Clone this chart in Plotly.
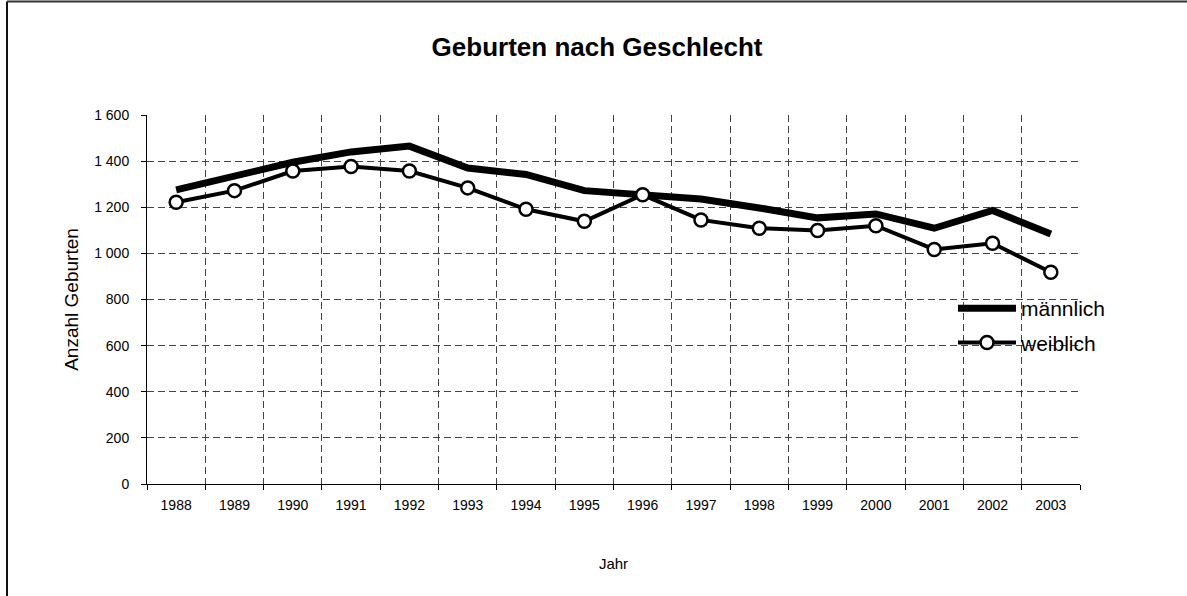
import plotly.graph_objects as go

years = [str(y) for y in range(1988, 2004)]
maennlich = [1275, 1337, 1395, 1440, 1465, 1370, 1342, 1272, 1254, 1236, 1197, 1154, 1171, 1109, 1186, 1084]
weiblich = [1222, 1272, 1357, 1377, 1357, 1284, 1191, 1139, 1254, 1145, 1109, 1099, 1120, 1017, 1044, 918]
y_ticks = [0, 200, 400, 600, 800, 1000, 1200, 1400, 1600]

FONT = "Liberation Sans, Arial, sans-serif"
L, R, T, B = 147, 107, 115, 112
PW, PH = 1187 - L - R, 596 - T - B

fig = go.Figure()
fig.add_trace(go.Scatter(
    x=years, y=maennlich, name="männlich", mode="lines", legendgroup="m",
    line=dict(color="black", width=7),
))
fig.add_trace(go.Scatter(
    x=years, y=weiblich, name="weiblich", mode="lines+markers", legendgroup="w",
    line=dict(color="black", width=4),
    marker=dict(symbol="circle", size=13, color="white", line=dict(color="black", width=2.5)),
))

fig.update_layout(
    width=1187, height=596,
    margin=dict(l=L, r=R, t=T, b=B),
    paper_bgcolor="white", plot_bgcolor="white",
    separators=", ",
    font=dict(family=FONT, color="black", size=14),
    title=dict(text="<b>Geburten nach Geschlecht</b>", x=0.503, xanchor="center",
               y=1 - 47 / 596, yanchor="middle", font=dict(size=26, family=FONT)),
    showlegend=True,
    legend=dict(x=(953 - L) / PW, y=(484 - 288) / PH, xanchor="left", yanchor="top",
                bgcolor="rgba(0,0,0,0)", font=dict(size=21, family=FONT),
                itemwidth=58, tracegroupgap=4),
    xaxis=dict(
        type="category", tickson="boundaries", ticks="outside", ticklen=5,
        tickcolor="black", showline=True, linecolor="black", linewidth=1,
        showgrid=True, gridcolor="#444", griddash="7px,4px", gridwidth=1,
        tickfont=dict(size=14), range=[-0.5, 15.5], ticklabelstandoff=8,
        title=dict(text="Jahr", font=dict(size=15), standoff=46),
        zeroline=False,
    ),
    yaxis=dict(
        range=[0, 1600], tickvals=y_ticks, separatethousands=True,
        ticks="outside", ticklen=5, tickcolor="black",
        showline=True, linecolor="black", linewidth=1,
        showgrid=True, gridcolor="#444", griddash="7px,4px", gridwidth=1,
        tickfont=dict(size=14), zeroline=False, ticklabelstandoff=9,
        title=dict(text="Anzahl Geburten", font=dict(size=19), standoff=10),
    ),
)

# chart-area border: only the left and top edges are visible in the picture
bx = (7 - L) / PW
by = (484 - 1.5) / PH
fig.add_shape(type="line", xref="paper", yref="paper", x0=bx, x1=bx, y0=-0.6, y1=by,
              line=dict(color="#111", width=2), layer="below")
fig.add_shape(type="line", xref="paper", yref="paper", x0=bx, x1=1.3, y0=by, y1=by,
              line=dict(color="#333", width=2), layer="below")

fig.write_html("out.html", config={"displayModeBar": False},
               post_script="document.body.style.margin='0px';")
